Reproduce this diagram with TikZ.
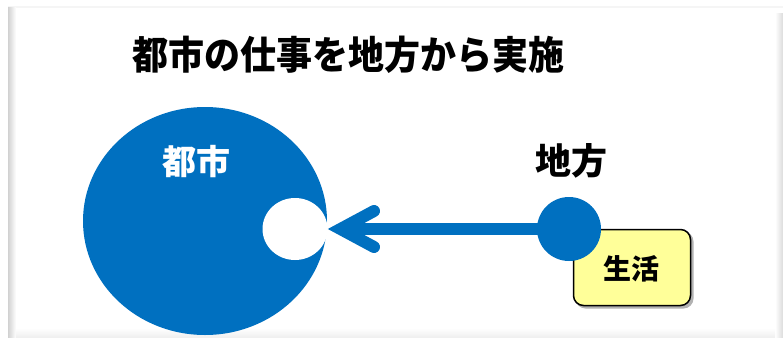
\documentclass[tikz,border=0pt]{standalone}
\usepackage{fontspec}
\usetikzlibrary{shapes.geometric}
\setmainfont{Noto Sans CJK JP}
\definecolor{cityblue}{HTML}{0070C0}
\definecolor{lifeyellow}{HTML}{FFFF99}
\begin{document}
\begin{tikzpicture}[x=1pt,y=-1pt,
  jp/.style={font=\bfseries\fontsize{#1}{#1}\selectfont, inner sep=0pt},
  arrowline/.style={cityblue, line width=12pt, line cap=round},
]
\useasboundingbox (0,0) rectangle (783,337);
\fill[white] (0,0) rectangle (783,337);
% frame with soft shadow
\fill[black!4] (8,6) rectangle (783,8);
\shade[left color=black!18, right color=white] (8,8) rectangle (16,337);
\shade[left color=white, right color=black!14] (775,14) rectangle (783,337);
\shade[top color=white, bottom color=black!6] (16,328) rectangle (775,337);
\fill[white] (16,9) rectangle (775,328);
% title
\node[jp=36, yscale=1.08] (title) at (348,55) {都市の仕事を地方から実施};
% city
\node[ellipse, fill=cityblue, minimum width=244pt, minimum height=228pt, inner sep=0pt] (city) at (205,221) {};
\node[jp=34, text=white] (citylabel) at (196,162) {都市};
\node[ellipse, fill=white, minimum width=65pt, minimum height=62pt, inner sep=0pt] (hole) at (295,229) {};
% life box
\fill[black!30, rounded corners=10pt] (575.5,231.5) rectangle (693.5,308.5);
\node[draw=black, line width=1.5pt, fill=lifeyellow, rounded corners=10pt, minimum width=117pt, minimum height=76pt, inner sep=0pt] (life) at (632,267.5) {};
\node[jp=28] (lifelabel) at (631,269) {生活};
% region
\node[circle, fill=cityblue, minimum size=64pt, inner sep=0pt] (region) at (569,229) {};
\node[jp=36] (regionlabel) at (571,161) {地方};
% arrow
\coordinate (tip) at (340.5,229);
\coordinate (armA) at (374,211);
\coordinate (armB) at (374,247);
\draw[arrowline, line cap=butt] (region.center) -- (345,229);
\draw[arrowline, line join=miter] (armA) -- (tip) -- (armB);
\end{tikzpicture}
\end{document}
